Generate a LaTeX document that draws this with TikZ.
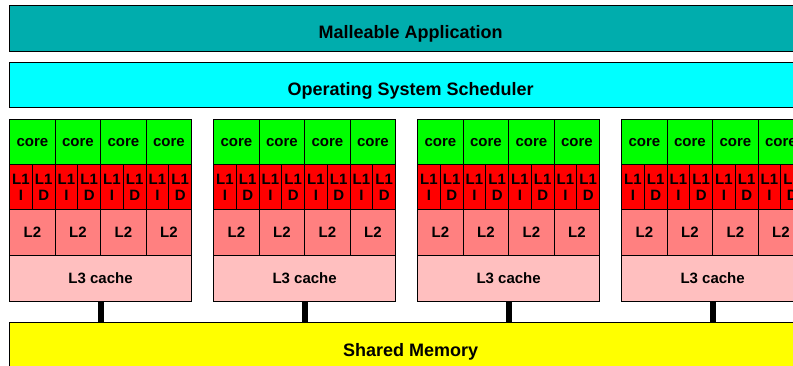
\documentclass[tikz,border=0pt]{standalone}
\usepackage{fontspec}
\setmainfont{Liberation Sans}
\definecolor{appteal}{RGB}{0,173,173}
\definecolor{oscyan}{RGB}{0,255,255}
\definecolor{coregreen}{RGB}{0,255,0}
\definecolor{lonered}{RGB}{255,0,0}
\definecolor{ltwopink}{RGB}{255,128,128}
\definecolor{lthreepink}{RGB}{255,191,191}
\definecolor{memyellow}{RGB}{255,255,0}
\begin{document}
\begin{tikzpicture}[
  x=1pt, y=-1pt,
  cell/.style={rectangle, draw, line width=1.2pt, inner sep=0pt, anchor=north west,
    font=\fontsize{15}{16}\selectfont\bfseries},
  bar/.style={rectangle, draw, line width=1.2pt, inner sep=0pt, anchor=north west,
    minimum width=802pt},
  barlabel/.style={anchor=base, font=\fontsize{18}{20}\selectfont\bfseries},
  bus/.style={line width=6pt}
]
  \useasboundingbox (0,0) rectangle (793,366);
  \clip (0,0) rectangle (793,366);

  % layers across the whole machine
  \node[bar, fill=appteal, minimum height=46pt] (app) at (9,5) {};
  \node[barlabel] (applabel) at ([yshift=-10pt]app.center) {Malleable Application};
  \node[bar, fill=oscyan, minimum height=45pt] (os) at (9,62) {};
  \node[barlabel] (oslabel) at ([yshift=-10pt]os.center) {Operating System Scheduler};
  \node[bar, fill=memyellow, minimum height=54pt] (mem) at (9,322) {};
  \node[barlabel] (memlabel) at ([yshift=-6.5pt]mem.center) {Shared Memory};

  % four processors
  \foreach \b in {0,...,3} {
    \pgfmathsetmacro\bx{9+204*\b}
    \foreach \c in {0,...,3} {
      \pgfmathsetmacro\cx{\bx+45.5*\c}
      \node[cell, fill=coregreen, minimum width=45.5pt, minimum height=45pt] (core\b\c) at (\cx,119) {core};
      \node[cell, fill=lonered, minimum width=22.75pt, minimum height=45pt, align=center] (lonei\b\c) at (\cx,164) {L1\\I};
      \node[cell, fill=lonered, minimum width=22.75pt, minimum height=45pt, align=center] (loned\b\c) at (\cx+22.75,164) {L1\\D};
      \node[cell, fill=ltwopink, minimum width=45.5pt, minimum height=46pt] (ltwo\b\c) at (\cx,209) {L2};
    }
    \node[cell, fill=lthreepink, minimum width=182pt, minimum height=46pt] (lthree\b) at (\bx,255) {L3 cache};
    \draw[bus] (lthree\b.south) -- (lthree\b.south |- mem.north);
  }
\end{tikzpicture}
\end{document}
